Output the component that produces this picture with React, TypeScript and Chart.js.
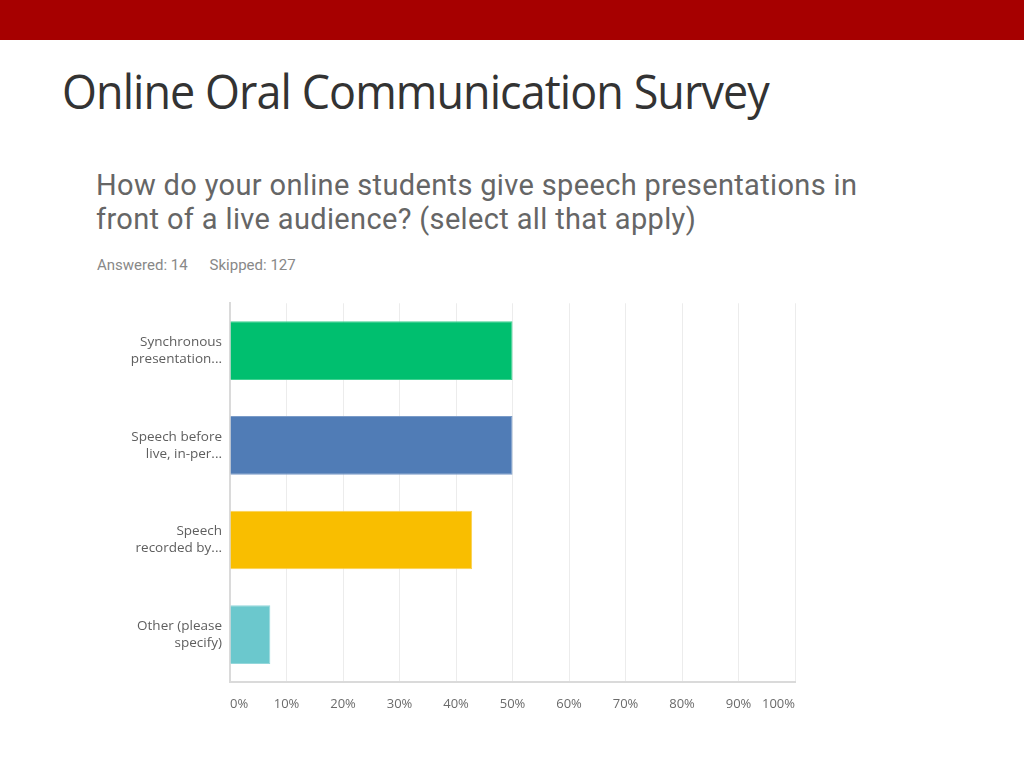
import React, { useEffect, useRef } from "react";
import { Chart, registerables } from "chart.js";

Chart.register(...registerables);

const categories: string[][] = [
  ["Synchronous", "presentation..."],
  ["Speech before", "live, in-per..."],
  ["Speech", "recorded by..."],
  ["Other (please", "specify)"],
];
const percentages: number[] = [50, 50, 42.86, 7.14];
const barColors: string[] = ["#00BF6F", "#507CB6", "#F9BE00", "#6BC8CD"];
const barBorders: string[] = ["#3fd191", "#7a9bc8", "#fbd050", "#93d7db"];
const xTicks: number[] = [0, 10, 20, 30, 40, 50, 60, 70, 80, 90, 100];

export default function App() {
  const ref = useRef<HTMLCanvasElement | null>(null);

  useEffect(() => {
    if (!ref.current) return;
    const chart = new Chart(ref.current, {
      type: "bar",
      data: {
        labels: categories,
        datasets: [
          {
            data: percentages,
            backgroundColor: barColors,
            borderColor: barBorders,
            borderWidth: 1,
            barPercentage: 0.62,
            categoryPercentage: 1,
          },
        ],
      },
      options: {
        indexAxis: "y",
        animation: false,
        responsive: false,
        maintainAspectRatio: false,
        layout: { padding: { top: 8, right: 25, bottom: 0, left: 0 } },
        plugins: { legend: { display: false }, tooltip: { enabled: false } },
        scales: {
          x: {
            min: 0,
            max: 100,
            afterBuildTicks: (scale: any) => {
              scale.ticks = xTicks.map((v) => ({ value: v }));
            },
            afterFit: (scale: any) => {
              scale.height = 43;
            },
            ticks: {
              align: "inner",
              padding: 14,
              color: "#6b6b6b",
              font: { family: "Open Sans", size: 13 },
              callback: (v: any) => v + "%",
            },
            grid: { color: "#ececec", lineWidth: 1, drawTicks: false },
            border: { color: "#dadada", width: 2 },
          },
          y: {
            afterFit: (scale: any) => {
              scale.width = 130;
            },
            ticks: {
              padding: 8,
              color: "#5e5e5e",
              font: { family: "Open Sans", size: 13.5, lineHeight: 1.28 },
            },
            grid: { display: false, drawTicks: false },
            border: { color: "#dadada", width: 2 },
          },
        },
      },
    });
    return () => chart.destroy();
  }, []);

  return (
    <div style={{ position: "absolute", left: 0, top: 0, width: 1024, height: 768, background: "#fff", overflow: "hidden" }}>
      <div style={{ position: "absolute", left: 0, top: 0, width: 1024, height: 40, background: "#A60000" }} />
      <div
        style={{
          position: "absolute",
          left: 62,
          top: 58,
          fontFamily: "Open Sans",
          fontSize: 48,
          color: "#333",
          whiteSpace: "nowrap",
          letterSpacing: -1,
          transform: "scaleX(0.936)",
          transformOrigin: "left top",
          lineHeight: "66px",
        }}
      >
        Online Oral Communication Survey
      </div>
      <div
        style={{
          position: "absolute",
          left: 96,
          top: 168,
          fontFamily: "Roboto",
          fontSize: 29,
          letterSpacing: 0.35,
          color: "#666",
          lineHeight: "34px",
          whiteSpace: "nowrap",
        }}
      >
        How do your online students give speech presentations in
        <br />
        front of a live audience? (select all that apply)
      </div>
      <div
        style={{
          position: "absolute",
          left: 97,
          top: 256,
          fontFamily: "Roboto",
          fontSize: 15,
          color: "#888",
          whiteSpace: "nowrap",
        }}
      >
        Answered: 14<span style={{ display: "inline-block", width: 22 }} />Skipped: 127
      </div>
      <canvas
        ref={ref}
        width={720}
        height={447}
        style={{ position: "absolute", left: 100, top: 278, width: 720, height: 447 }}
      />
    </div>
  );
}
